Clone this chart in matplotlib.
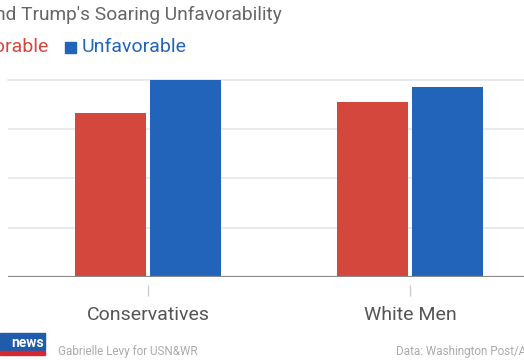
import numpy as np
import matplotlib.pyplot as plt
from matplotlib.patches import Rectangle

# Data
categories = ['Conservatives', 'White Men']
favorable = [66.5, 71]
unfavorable = [80, 77]
series_names = ['Favorable', 'Unfavorable']
title = "Who's Behind Trump's Soaring Unfavorability"

red = '#d4473d'
blue = '#2264ba'

W, H = 524, 360
fig = plt.figure(figsize=(W / 100, H / 100), dpi=100)
plt.rcParams['font.family'] = ['Roboto', 'DejaVu Sans']

# Axes placed so the chart runs off the right edge like the reference crop
ax = fig.add_axes([8 / W, (H - 277) / H, 1 - 8 / W, (277 - 80) / H])

x = np.arange(len(categories))
width = 0.27
ax.bar(x - 0.142, favorable, width, color=red, zorder=3)
ax.bar(x + 0.142, unfavorable, width, color=blue, zorder=3)

ax.set_xlim(-0.534, 1.435)
ax.set_ylim(0, 80)
ax.set_yticks([0, 20, 40, 60, 80])
ax.yaxis.grid(True, color='#e6e6e6', linewidth=1.2, zorder=0)
ax.tick_params(axis='y', left=False, labelleft=False)
ax.axhline(0, color='#8a8a8a', linewidth=1.6, zorder=4)

for side in ['top', 'right', 'left']:
    ax.spines[side].set_visible(False)
ax.spines['bottom'].set_position(('outward', 6))
ax.spines['bottom'].set_color('none')
ax.set_xticks(x)
ax.set_xticklabels(categories, fontsize=14, color='#555555')
ax.tick_params(axis='x', length=8, width=1, color='#cccccc', pad=7)
ax.get_ygridlines()[-1].set_clip_on(False)

# Title (cut at the left as in the reference)
fig.text(282 / W, 1 - 15 / H, title, ha='right', va='center',
         fontsize=13.8, color='#666666')

# Legend
fig.text(49 / W, 1 - 47 / H, series_names[0], ha='right', va='center',
         fontsize=14, color=red)
fig.patches.append(Rectangle((65 / W, 1 - 53 / H), 11 / W, 11 / H,
                             transform=fig.transFigure, color=blue))
fig.text(82 / W, 1 - 47 / H, series_names[1], ha='left', va='center',
         fontsize=14, color=blue)

# Footer with logo and credits
fig.patches.append(Rectangle((0, (H - 350) / H), 45 / W, 17 / H,
                             transform=fig.transFigure, color='#1f5cab'))
fig.patches.append(Rectangle((0, (H - 355) / H), 45 / W, 4 / H,
                             transform=fig.transFigure, color='#d8272e'))
fig.text(44 / W, 1 - 343 / H, 'news', ha='right', va='center',
         fontsize=10, fontweight='bold', color='white')
fig.text(58 / W, 1 - 352 / H, 'Gabrielle Levy for USN&WR', ha='left',
         va='center', fontsize=8.4, color='#aaaaaa')
fig.text(396 / W, 1 - 352 / H, 'Data: Washington Post/ABC News', ha='left',
         va='center', fontsize=8.4, color='#aaaaaa')

fig.savefig('out.png', dpi=100)
